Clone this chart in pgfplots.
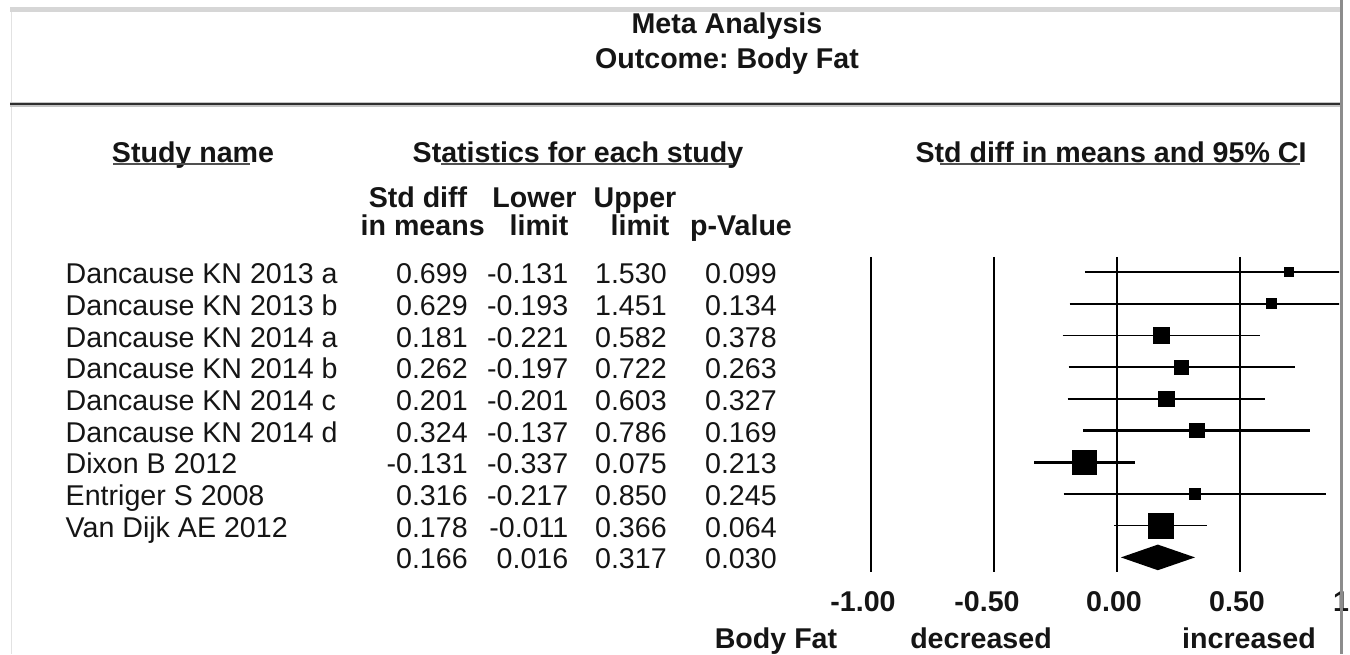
\documentclass[border=0pt]{standalone}
\usepackage{pgfplots}
\pgfplotsset{compat=1.18}
\usepackage{fontspec}
\setmainfont{Liberation Sans}
\definecolor{frametop}{HTML}{D6D6D6}
\definecolor{frameleft}{HTML}{E2E2E2}
\definecolor{frameright}{HTML}{8C8C8C}
\definecolor{rulehalo}{HTML}{C4C4C4}
\definecolor{rulecore}{HTML}{2E2E2E}
\definecolor{ulc}{HTML}{505050}
\definecolor{txt}{HTML}{151515}
\newcommand\fs{\fontsize{14.3}{17}\selectfont\frenchspacing}
\begin{document}
\begin{tikzpicture}[x=0.5pt,y=0.5pt,
  every node/.style={inner sep=0pt,outer sep=0pt,font=\fs,text=txt}]
\useasboundingbox (0,0) rectangle (1350,654);
\clip (0,0) rectangle (1350,654);
% frame
\fill[frameleft] (10.5,0) rectangle (12,647);
\fill[frametop] (10,642) rectangle (1341,647);
\fill[rulehalo] (10,547.3) rectangle (1341,552.3);
\fill[rulecore] (10,548.5) rectangle (1341,551);
% title
\node[anchor=base,font=\fs\bfseries] at (727,620.5) {Meta Analysis};
\node[anchor=base,font=\fs\bfseries] at (727,585) {Outcome: Body Fat};
% headers
\node[anchor=base,font=\fs\bfseries] at (193,491) {Study name};
\node[anchor=base,font=\fs\bfseries] at (578,491) {Statistics for each study};
\node[anchor=base,font=\fs\bfseries] at (1111,491) {Std diff in means and 95\% CI};
\fill[ulc] (113,488.7) rectangle (250,490.7);
\fill[ulc] (441,488.7) rectangle (733,490.7);
\fill[ulc] (940,488.7) rectangle (1300,490.7);
% column headers
\node[anchor=base,font=\fs\bfseries] at (418,446) {Std diff};
\node[anchor=base,font=\fs\bfseries] at (422.7,418) {in means};
\node[anchor=base,font=\fs\bfseries] at (534.5,446) {Lower};
\node[anchor=base,font=\fs\bfseries] at (539,418) {limit};
\node[anchor=base,font=\fs\bfseries] at (635,446) {Upper};
\node[anchor=base,font=\fs\bfseries] at (640,418) {limit};
\node[anchor=base,font=\fs\bfseries] at (741,418) {p-Value};
% table rows (baseline y = 285 + 31.66*(i-1) in image pixels)
\foreach \name/\es/\lo/\hi/\p [count=\i] in {
  Dancause KN 2013 a/0.699/-0.131/1.530/0.099,
  Dancause KN 2013 b/0.629/-0.193/1.451/0.134,
  Dancause KN 2014 a/0.181/-0.221/0.582/0.378,
  Dancause KN 2014 b/0.262/-0.197/0.722/0.263,
  Dancause KN 2014 c/0.201/-0.201/0.603/0.327,
  Dancause KN 2014 d/0.324/-0.137/0.786/0.169,
  Dixon B 2012/-0.131/-0.337/0.075/0.213,
  Entriger S 2008/0.316/-0.217/0.850/0.245,
  Van Dijk AE 2012/0.178/-0.011/0.366/0.064,
  {}/0.166/0.016/0.317/0.030}
{
  \pgfmathsetmacro\yy{654-284-31.66*(\i-1)}
  \node[anchor=base west] at (65.7,\yy) {\name};
  \node[anchor=base east] at (467.7,\yy) {\es};
  \node[anchor=base east] at (568.3,\yy) {\lo};
  \node[anchor=base east] at (666.7,\yy) {\hi};
  \node[anchor=base east] at (776.7,\yy) {\p};
}
% tick labels and bottom labels
\node[anchor=base,font=\fs\bfseries] at (863,43) {-1.00};
\node[anchor=base,font=\fs\bfseries] at (987,43) {-0.50};
\node[anchor=base,font=\fs\bfseries] at (1114,43) {0.00};
\node[anchor=base,font=\fs\bfseries] at (1237,43) {0.50};
\node[anchor=base,font=\fs\bfseries] at (1361,43) {1.00};
\node[anchor=base,font=\fs\bfseries] at (776,6) {Body Fat};
\node[anchor=base,font=\fs\bfseries] at (981,6) {decreased};
\node[anchor=base,font=\fs\bfseries] at (1249,6) {increased};
% forest plot
\begin{axis}[at={(374pt,41.15pt)},anchor=south west,scale only axis,
  width=295.5pt,height=157.35pt,
  xmin=-1.5,xmax=0.9024,ymin=0.524,ymax=10.451,y dir=reverse,
  hide axis,clip=true]
\foreach \v in {-1,-0.5,0,0.5}{
  \edef\tmp{\noexpand\addplot[black,line width=1.25pt] coordinates {(\v,0.524) (\v,10.451)};}
  \tmp
}
% CI lines
\addplot[black,line width=1.25pt] coordinates {(-0.131,1) (1.530,1)};
\addplot[black,line width=1.25pt] coordinates {(-0.193,2) (1.451,2)};
\addplot[black,line width=0.75pt] coordinates {(-0.221,3) (0.582,3)};
\addplot[black,line width=1.25pt] coordinates {(-0.197,4) (0.722,4)};
\addplot[black,line width=1.25pt] coordinates {(-0.201,5) (0.603,5)};
\addplot[black,line width=1.25pt] coordinates {(-0.137,6) (0.786,6)};
\addplot[black,line width=1.25pt] coordinates {(-0.337,7) (0.075,7)};
\addplot[black,line width=1.25pt] coordinates {(-0.217,8) (0.850,8)};
\addplot[black,line width=0.75pt] coordinates {(-0.011,9) (0.366,9)};
% point estimates (square size ~ weight)
\pgfplotsset{sq/.style={only marks,mark=square*,mark options={draw=none,fill=black},mark size=#1}}
\addplot[sq=2.4pt] coordinates {(0.699,1)};
\addplot[sq=2.5pt] coordinates {(0.629,2)};
\addplot[sq=4pt] coordinates {(0.181,3)};
\addplot[sq=3.6pt] coordinates {(0.262,4)};
\addplot[sq=3.8pt] coordinates {(0.201,5)};
\addplot[sq=3.6pt] coordinates {(0.324,6)};
\addplot[sq=6pt] coordinates {(-0.131,7)};
\addplot[sq=2.7pt] coordinates {(0.316,8)};
\addplot[sq=6.1pt] coordinates {(0.178,9)};
% summary diamond
\addplot[fill=black,draw=none] coordinates {(0.016,10) (0.166,9.596) (0.317,10) (0.166,10.404)} -- cycle;
\end{axis}
\fill[frameright] (1340.3,0) rectangle (1342.5,654);
\end{tikzpicture}
\end{document}
